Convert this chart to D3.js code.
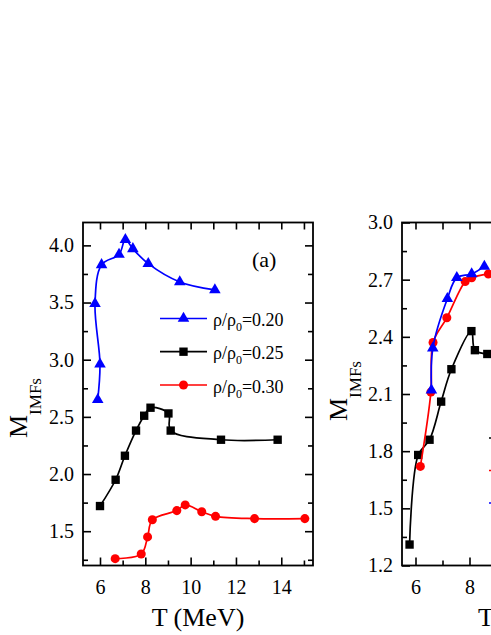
<!DOCTYPE html>
<html>
<head>
<meta charset="utf-8">
<script src="https://cdn.jsdelivr.net/npm/d3@7"></script>
<style>
body { margin: 0; background: #fff; }
svg { display: block; font-family: "Liberation Serif", "Times New Roman", serif; }
.tick text { font-size: 20px; fill: #000; font-family: "Liberation Serif", serif; }
.tick line { stroke: #000; stroke-width: 1.6; }
</style>
</head>
<body>
<svg></svg>
<script>
let svgWidth = 491;
let svgHeight = 635;
let plotTop = 222.5;
let plotBottom = 565.5;

// panel (a): T (MeV) and M_IMFs for each density
let aT020 = [5.9, 6.0, 5.78, 6.07, 6.84, 7.12, 7.45, 8.13, 9.52, 11.07];
let aM020 = [2.65, 2.96, 3.49, 3.83, 3.92, 4.05, 3.97, 3.84, 3.68, 3.61];
let aT025 = [6.0, 6.69, 7.1, 7.59, 7.95, 8.23, 9.02, 9.12, 11.34, 13.84];
let aM025 = [1.72, 1.95, 2.16, 2.38, 2.51, 2.58, 2.53, 2.38, 2.30, 2.30];
let aT030 = [6.67, 7.82, 8.1, 8.31, 9.39, 9.76, 10.49, 11.1, 12.82, 15.04];
let aM030 = [1.26, 1.30, 1.45, 1.60, 1.68, 1.73, 1.67, 1.63, 1.61, 1.61];

// panel (b), only the visible part
let bT020 = [6.59, 6.64, 7.18, 7.53, 8.08, 8.55];
let bM020 = [2.12, 2.34, 2.60, 2.71, 2.73, 2.77];
let bT025 = [5.78, 6.1, 6.52, 6.95, 7.33, 8.07, 8.2, 8.66];
let bM025 = [1.31, 1.78, 1.86, 2.06, 2.23, 2.43, 2.33, 2.31];
let bT030 = [6.18, 6.57, 6.65, 7.16, 7.84, 8.08, 8.7];
let bM030 = [1.72, 2.11, 2.37, 2.50, 2.69, 2.71, 2.73];

let densities = ["0.20", "0.25", "0.30"];

let aXTicks = [6, 8, 10, 12, 14];
let aXMinor = [7, 9, 11, 13, 15];
let aYTicks = [1.5, 2.0, 2.5, 3.0, 3.5, 4.0];
let aYMinor = [1.25, 1.75, 2.25, 2.75, 3.25, 3.75];
let bXTicks = [6, 8, 10, 12, 14];
let bXMinor = [7, 9, 11, 13];
let bYTicks = [1.2, 1.5, 1.8, 2.1, 2.4, 2.7, 3.0];
let bYMinor = [1.35, 1.65, 1.95, 2.25, 2.55, 2.85];

let colors = {"0.20": "#0000ff", "0.25": "#000000", "0.30": "#ff0000"};
let symbols = {"0.20": d3.symbolTriangle, "0.25": d3.symbolSquare, "0.30": d3.symbolCircle};
let symSize = {"0.20": 58, "0.25": 70, "0.30": 64};

let svg = d3.select('svg').attr('width', svgWidth).attr('height', svgHeight);

function setup_axis(g, x, y, xTicks, xMinor, yTicks, yMinor, yFmt){
    let x0 = x.range()[0], x1 = x.range()[1];

    g.append('g').attr('transform', 'translate(0,' + plotBottom + ')')
        .call(d3.axisBottom(x).tickValues(xTicks).tickSizeInner(-8).tickSizeOuter(0).tickPadding(14).tickFormat(d3.format("d")))
        .select('.domain').remove();
    g.append('g').attr('transform', 'translate(0,' + plotBottom + ')')
        .call(d3.axisBottom(x).tickValues(xMinor).tickSizeInner(-5).tickSizeOuter(0).tickFormat(""))
        .select('.domain').remove();
    g.append('g').attr('transform', 'translate(0,' + plotTop + ')')
        .call(d3.axisTop(x).tickValues(xTicks.concat(xMinor)).tickSizeInner(-7).tickSizeOuter(0).tickFormat(""))
        .select('.domain').remove();

    g.append('g').attr('transform', 'translate(' + x0 + ',0)')
        .call(d3.axisLeft(y).tickValues(yTicks).tickSizeInner(-8).tickSizeOuter(0).tickPadding(9).tickFormat(d3.format(yFmt)))
        .select('.domain').remove();
    g.append('g').attr('transform', 'translate(' + x0 + ',0)')
        .call(d3.axisLeft(y).tickValues(yMinor).tickSizeInner(-5).tickSizeOuter(0).tickFormat(""))
        .select('.domain').remove();
    g.append('g').attr('transform', 'translate(' + x1 + ',0)')
        .call(d3.axisRight(y).tickValues(yTicks).tickSizeInner(-8).tickSizeOuter(0).tickFormat(""))
        .select('.domain').remove();
    g.append('g').attr('transform', 'translate(' + x1 + ',0)')
        .call(d3.axisRight(y).tickValues(yMinor).tickSizeInner(-5).tickSizeOuter(0).tickFormat(""))
        .select('.domain').remove();

    g.append('rect')
        .attr('x', x0).attr('y', plotTop)
        .attr('width', x1 - x0).attr('height', plotBottom - plotTop)
        .attr('fill', 'none').attr('stroke', '#000').attr('stroke-width', 1.8);
}

function draw_series(g, x, y, ts, ms, key){
    let pts = ts.map(function(t, i){ return [t, ms[i]]; });
    let lineFunction = d3.line()
        .x(function(d) { return x(d[0]); })
        .y(function(d) { return y(d[1]); })
        .curve(d3.curveCatmullRom.alpha(0.5));
    g.append('path')
        .attr('d', lineFunction(pts))
        .attr('fill', 'none')
        .attr('stroke', colors[key])
        .attr('stroke-width', 1.7);
    g.selectAll(null).data(pts).enter().append('path')
        .attr('d', d3.symbol().type(symbols[key]).size(symSize[key]))
        .attr('transform', function(d){ return 'translate(' + x(d[0]) + ',' + y(d[1]) + ')'; })
        .attr('fill', colors[key]);
}

function draw_legend(g, xs, ys, keys){
    for(let i = 0; i < keys.length; i++){
        let k = keys[i];
        let row = g.append('g');
        row.append('line')
            .attr('x1', xs).attr('x2', xs + 47)
            .attr('y1', ys[i]).attr('y2', ys[i])
            .attr('stroke', colors[k]).attr('stroke-width', 1.7);
        row.append('path')
            .attr('d', d3.symbol().type(symbols[k]).size(symSize[k]))
            .attr('transform', 'translate(' + (xs + 23.5) + ',' + ys[i] + ')')
            .attr('fill', colors[k]);
        let txt = row.append('text')
            .attr('x', xs + 53).attr('y', ys[i] + 7.5)
            .attr('font-size', 18);
        txt.append('tspan').text('ρ/ρ');
        txt.append('tspan').attr('font-size', 12).attr('dy', 5).text('0');
        txt.append('tspan').attr('dy', -5).text('=' + k);
    }
}

function y_title(g, xb, yb){
    let t = g.append('text')
        .attr('transform', 'translate(' + xb + ',' + yb + ') rotate(-90)')
        .attr('font-size', 26);
    t.append('tspan').text('M');
    t.append('tspan').attr('font-size', 17).attr('dy', 14).text('IMFs');
}

// panel (a)
let xA = d3.scaleLinear().domain([5.25, 15.4]).range([83, 313]);
let yA = d3.scaleLinear().domain([1.2, 4.2]).range([plotBottom, plotTop]);
let gA = svg.append('g');
setup_axis(gA, xA, yA, aXTicks, aXMinor, aYTicks, aYMinor, ".1f");
draw_series(gA, xA, yA, aT025, aM025, "0.25");
draw_series(gA, xA, yA, aT030, aM030, "0.30");
draw_series(gA, xA, yA, aT020, aM020, "0.20");
draw_legend(gA, 160, [318.5, 351.7, 385], densities);
gA.append('text').attr('x', 252).attr('y', 267).attr('font-size', 22).text('(a)');
gA.append('text').attr('x', 198).attr('y', 626).attr('font-size', 26)
    .attr('text-anchor', 'middle').text('T (MeV)');
y_title(gA, 27, 438);

// panel (b)
let xB = d3.scaleLinear().domain([5.5, 14.5]).range([402, 645]);
let yB = d3.scaleLinear().domain([1.2, 3.0]).range([plotBottom, plotTop]);
let gB = svg.append('g');
setup_axis(gB, xB, yB, bXTicks, bXMinor, bYTicks, bYMinor, ".1f");
draw_series(gB, xB, yB, bT025, bM025, "0.25");
draw_series(gB, xB, yB, bT030, bM030, "0.30");
draw_series(gB, xB, yB, bT020, bM020, "0.20");
draw_legend(gB, 489, [438, 470.5, 503], ["0.25", "0.30", "0.20"]);
gB.append('text').attr('x', 478).attr('y', 626).attr('font-size', 26).text('T (MeV)');
y_title(gB, 346.5, 421);
</script>
</body>
</html>
